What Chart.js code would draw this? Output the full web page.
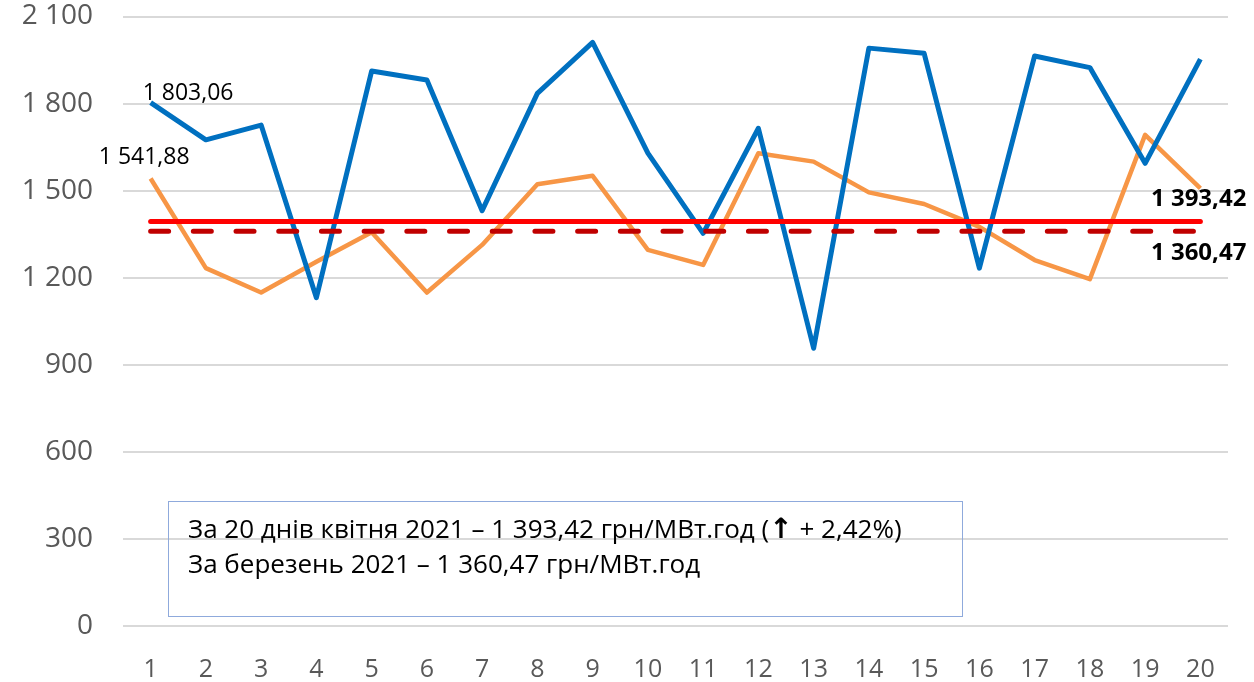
<!DOCTYPE html>
<html>
<head>
<meta charset="utf-8">
<script src="https://cdn.jsdelivr.net/npm/chart.js@4"></script>
<style>
  body { margin: 0; background: #fff; }
  #wrap { position: relative; width: 1254px; height: 682px; }
  #note {
    position: absolute; left: 168px; top: 501px; width: 793px; height: 114px;
    border: 1.5px solid #8faadc; box-sizing: content-box;
  }
  #noteText {
    position: absolute; left: 188px; top: 511px;
    font-family: "Open Sans", sans-serif; font-size: 26px; line-height: 34px; color: #000;
    white-space: nowrap;
  }
  #noteText b { font-family: "DejaVu Sans", sans-serif; font-size: 28px; }
</style>
</head>
<body>
<div id="wrap">
  <canvas id="chart"></canvas>
  <div id="note"></div>
  <div id="noteText">За 20 днів квітня 2021 – 1 393,42 грн/МВт.год (<b>↑</b> + 2,42%)<br>За березень 2021 – 1 360,47 грн/МВт.год</div>
</div>
<script>
// дні місяця
const days = ['1','2','3','4','5','6','7','8','9','10','11','12','13','14','15','16','17','18','19','20'];
// ціни, грн/МВт.год
const pricesApril = [1803.06, 1675, 1726, 1131, 1912, 1881, 1431, 1835, 2011, 1629, 1353, 1715, 957, 1991, 1973, 1233, 1964, 1924, 1594, 1953];
const pricesMarch = [1541.88, 1233, 1149, 1255, 1357, 1149, 1313, 1522, 1551, 1296, 1244, 1629, 1600, 1494, 1454, 1375, 1261, 1195, 1692, 1508];
// середні значення
const avgApril = 1393.42;
const avgMarch = 1360.47;
const yTicks = [0, 300, 600, 900, 1200, 1500, 1800, 2100];

function fmt(v, dec) {
  const s = v.toFixed(dec).split('.');
  const int = s[0].replace(/\B(?=(\d{3})+(?!\d))/g, ' ');
  return s[1] ? int + ',' + s[1] : int;
}

// підписи значень
const labelsPlugin = {
  id: 'valueLabels',
  afterDatasetsDraw(chart) {
    const ctx = chart.ctx;
    const blue = chart.getDatasetMeta(0).data;
    const orange = chart.getDatasetMeta(1).data;
    const red = chart.getDatasetMeta(2).data;
    const dash = chart.getDatasetMeta(3).data;
    const last = days.length - 1;
    ctx.save();
    ctx.fillStyle = '#000';
    ctx.textBaseline = 'alphabetic';
    ctx.font = '23px "Open Sans"';
    ctx.textAlign = 'left';
    ctx.fillText(fmt(pricesApril[0], 2), blue[0].x - 8, blue[0].y - 3);
    ctx.textAlign = 'right';
    ctx.fillText(fmt(pricesMarch[0], 2), orange[0].x + 39, orange[0].y - 14);
    ctx.font = 'bold 24px "Open Sans"';
    ctx.fillText(fmt(avgApril, 2), red[last].x + 46, red[last].y - 16);
    ctx.fillText(fmt(avgMarch, 2), dash[last].x + 46, dash[last].y + 29);
    ctx.restore();
  }
};

function noPad(scale) {
  scale.paddingTop = 0;
  scale.paddingBottom = 0;
  scale.paddingLeft = 0;
  scale.paddingRight = 0;
}

new Chart(document.getElementById('chart'), {
  type: 'line',
  data: {
    labels: days,
    datasets: [
      {
        data: pricesApril,
        borderColor: '#0070c0',
        borderWidth: 5,
        pointRadius: 0,
        tension: 0,
        borderJoinStyle: 'round',
        order: 2
      },
      {
        data: pricesMarch,
        borderColor: '#f79646',
        borderWidth: 4.5,
        pointRadius: 0,
        tension: 0,
        borderJoinStyle: 'round',
        order: 3
      },
      {
        data: days.map(() => avgApril),
        borderColor: '#ff0000',
        borderWidth: 5,
        pointRadius: 0,
        borderCapStyle: 'round',
        order: 0
      },
      {
        data: days.map(() => avgMarch),
        borderColor: '#c00000',
        borderWidth: 5,
        pointRadius: 0,
        borderCapStyle: 'round',
        borderDash: [18, 24.7],
        order: 1
      }
    ]
  },
  options: {
    responsive: true,
    maintainAspectRatio: false,
    animation: false,
    layout: { padding: { top: 16.5, right: 26, left: 0, bottom: 0 } },
    plugins: {
      legend: { display: false },
      tooltip: { enabled: false }
    },
    scales: {
      x: {
        offset: true,
        grid: { display: false, drawTicks: false },
        border: { display: false },
        ticks: {
          color: '#595959',
          font: { family: 'Open Sans', size: 25 },
          padding: 29,
          autoSkip: false,
          maxRotation: 0
        },
        afterFit(scale) { scale.height = 56; noPad(scale); }
      },
      y: {
        min: 0,
        max: 2100,
        afterBuildTicks(scale) { scale.ticks = yTicks.map(v => ({ value: v })); },
        grid: { color: '#d9d9d9', lineWidth: 2, drawTicks: false },
        border: { display: false },
        ticks: {
          color: '#595959',
          font: { family: 'Open Sans', size: 28 },
          padding: 30,
          callback: v => fmt(v, 0)
        },
        afterFit(scale) { scale.width = 123; noPad(scale); }
      }
    }
  },
  plugins: [labelsPlugin]
});
</script>
</body>
</html>
